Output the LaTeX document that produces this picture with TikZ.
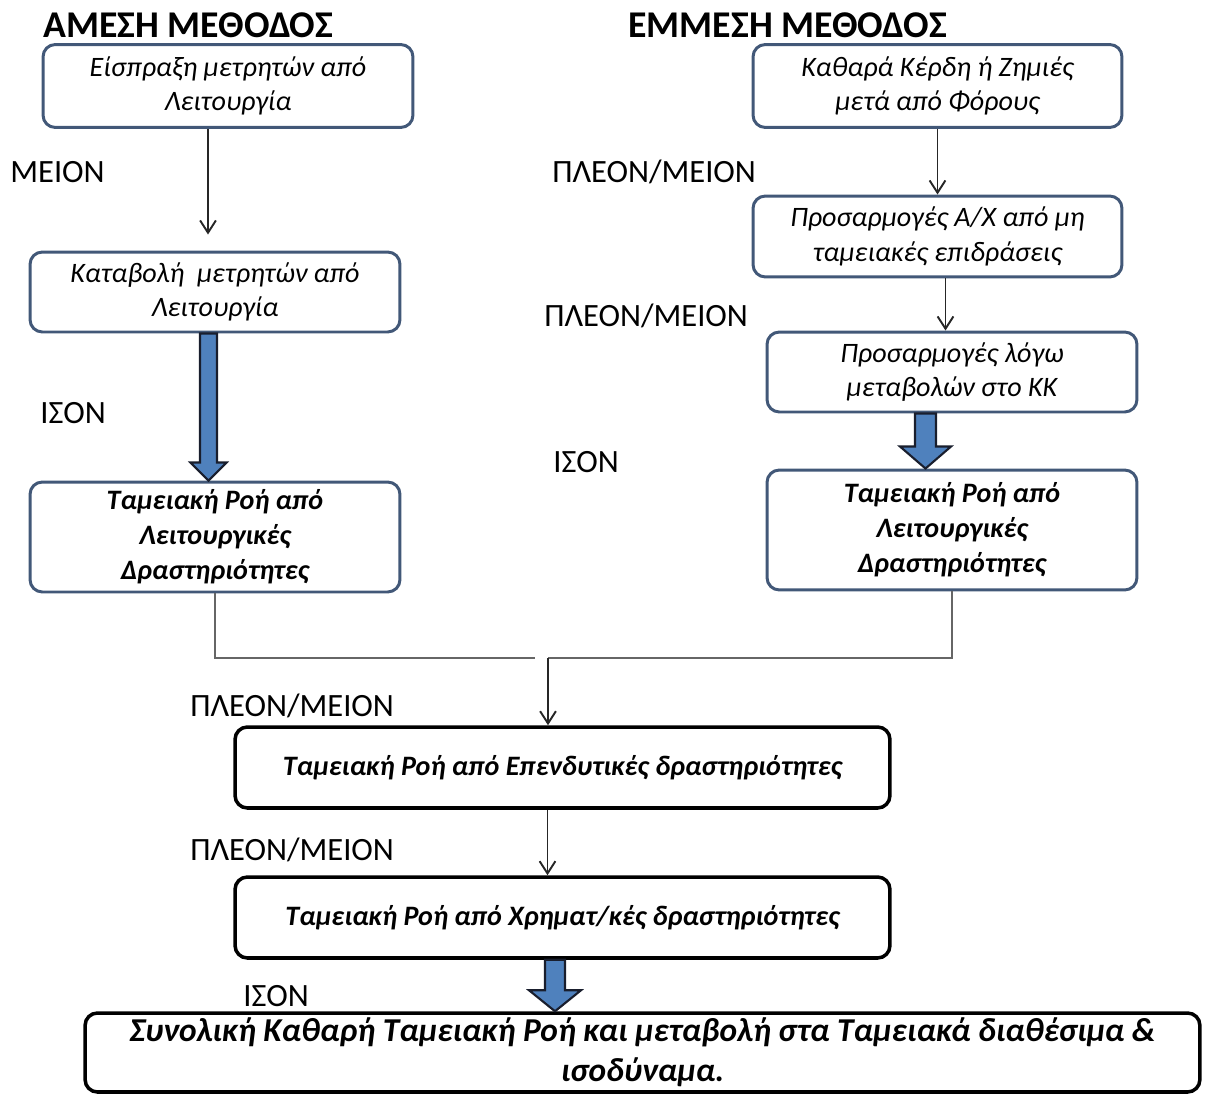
\documentclass[tikz,border=0pt]{standalone}
\usepackage{fontspec}
\setmainfont{Carlito}
\usetikzlibrary{arrows.meta, positioning, calc}
\definecolor{boxblue}{RGB}{66,88,120}
\definecolor{arrowblue}{RGB}{79,129,189}
\definecolor{arrowdark}{RGB}{25,30,45}

\tikzset{
  stepbox/.style={draw=boxblue, line width=1.7pt, rounded corners=7pt, align=center,
    inner sep=2pt, font=\fontsize{16}{19.5}\selectfont\itshape},
  resultbox/.style={stepbox, font=\fontsize{16}{20}\selectfont\bfseries\itshape},
  flowbox/.style={resultbox, draw=black, line width=2pt},
  oplabel/.style={anchor=west, inner sep=0pt, font=\fontsize{18.5}{22}\selectfont},
  heading/.style={anchor=west, inner sep=0pt, font=\fontsize{21.5}{25}\selectfont\bfseries},
  thinarrow/.style={draw=black!85, line width=1.1pt, -{Straight Barb[length=7pt,width=9pt]}},
  joinline/.style={draw=black!60, line width=1.1pt},
  fatarrow/.style={draw=arrowdark, fill=arrowblue, line width=1.2pt, line join=miter},
}

% block arrow: shift, from, to, shaft half width, head half width, head length
\newcommand{\fatarrow}[6]{%
  \coordinate (fs) at ($(#2.south)+(#1,0)$);
  \coordinate (ft) at (fs |- #3.north);
  \draw[fatarrow] ($(fs)+(-#4,0)$) -- ($(ft)+(-#4,-#6)$) -- ($(ft)+(-#5,-#6)$) -- (ft)
    -- ($(ft)+(#5,-#6)$) -- ($(ft)+(#4,-#6)$) -- ($(fs)+(#4,0)$) -- cycle;
}

\begin{document}
\begin{tikzpicture}[x=0.02cm, y=-0.02cm]
  \useasboundingbox (0,0) rectangle (1207,1095);

  % Titoli
  \node[heading] (hdirect) at (43,25) {ΑΜΕΣΗ ΜΕΘΟΔΟΣ};
  \node[heading] (hindirect) at (628,25) {ΕΜΜΕΣΗ ΜΕΘΟΔΟΣ};

  % Metodo diretto (sinistra)
  \node[stepbox, minimum width=7.4cm, minimum height=1.66cm] (recv) at (228,86)
    {Είσπραξη μετρητών από\\Λειτουργία};
  \node[stepbox, minimum width=7.4cm, minimum height=1.6cm] (pay) at (215,292)
    {Καταβολή\ \ μετρητών από\\Λειτουργία};
  \node[resultbox, minimum width=7.4cm, minimum height=2.2cm] (opdirect) at (215,537)
    {Ταμειακή Ροή από\\Λειτουργικές\\Δραστηριότητες};

  % Metodo indiretto (destra)
  \node[stepbox, minimum width=7.38cm, minimum height=1.66cm] (profit) at (937.5,86)
    {Καθαρά Κέρδη ή Ζημιές\\μετά από Φόρους};
  \node[stepbox, minimum width=7.38cm, minimum height=1.62cm] (noncash) at (937.5,236.5)
    {Προσαρμογές Α/Χ από μη\\ταμειακές επιδράσεις};
  \node[stepbox, minimum width=7.4cm, minimum height=1.6cm] (wcap) at (952,372)
    {Προσαρμογές λόγω\\μεταβολών στο ΚΚ};
  \node[resultbox, minimum width=7.4cm, minimum height=2.4cm] (opindirect) at (952,530)
    {Ταμειακή Ροή από\\Λειτουργικές\\Δραστηριότητες};

  % Parte comune (sotto)
  \node[flowbox, minimum width=13.1cm, minimum height=1.62cm] (invest) at (562.5,767.5)
    {Ταμειακή Ροή από Επενδυτικές δραστηριότητες};
  \node[flowbox, minimum width=13.1cm, minimum height=1.62cm] (finance) at (562.5,917.5)
    {Ταμειακή Ροή από Χρηματ/κές δραστηριότητες};
  \node[flowbox, minimum width=22.3cm, minimum height=1.58cm,
    font=\fontsize{19}{23}\selectfont\bfseries\itshape] (total) at (642.5,1052.5)
    {Συνολική Καθαρή Ταμειακή Ροή και μεταβολή στα Ταμειακά διαθέσιμα \&\\ισοδύναμα.};

  % Etichette operazioni
  \node[oplabel] (lminus) at (10,172) {ΜΕΙΟΝ};
  \node[oplabel] (leqleft) at (40,413) {ΙΣΟΝ};
  \node[oplabel] (lpm1) at (552,172) {ΠΛΕΟΝ/ΜΕΙΟΝ};
  \node[oplabel] (lpm2) at (544,316) {ΠΛΕΟΝ/ΜΕΙΟΝ};
  \node[oplabel] (leqright) at (553,462) {ΙΣΟΝ};
  \node[oplabel] (lpm3) at (190,706) {ΠΛΕΟΝ/ΜΕΙΟΝ};
  \node[oplabel] (lpm4) at (190,850) {ΠΛΕΟΝ/ΜΕΙΟΝ};
  \node[oplabel] (leqbottom) at (243,996) {ΙΣΟΝ};

  % Frecce sottili
  \draw[thinarrow] ($(recv.south)+(-20,0)$) coordinate (a1) -- ($(a1 |- pay.north)+(0,-16)$);
  \draw[thinarrow] (profit) -- (noncash);
  \draw[thinarrow] ($(noncash.south)+(8,0)$) coordinate (a2) -- (a2 |- wcap.north);
  \draw[thinarrow] ($(invest.south)+(-15,0)$) coordinate (a3) -- (a3 |- finance.north);

  % Unione dei due metodi
  \coordinate (merge) at (548,658);
  \draw[joinline] (opdirect.south) |- ($(merge)+(-13,0)$);
  \draw[joinline] (opindirect.south) |- (merge);
  \draw[thinarrow] (merge) -- (merge |- invest.north);

  % Frecce spesse
  \fatarrow{-6.5}{pay}{opdirect}{8.5}{18}{18}
  \fatarrow{-26.5}{wcap}{opindirect}{10.5}{25.5}{22}
  \fatarrow{-7.5}{finance}{total}{10}{26}{21}
\end{tikzpicture}
\end{document}
